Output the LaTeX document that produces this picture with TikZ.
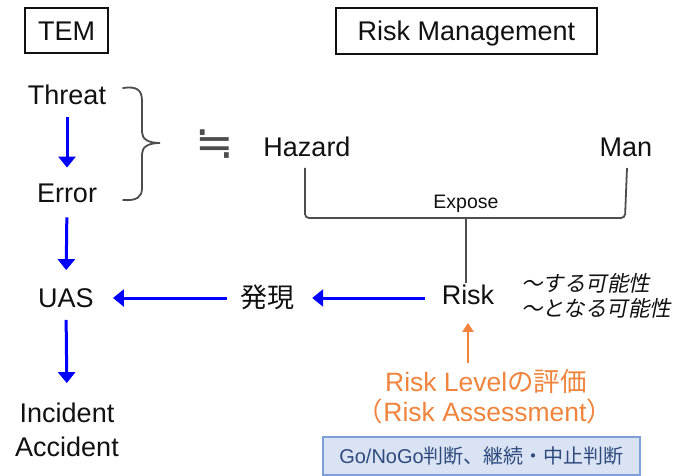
\documentclass[tikz,border=0pt]{standalone}
\usepackage{fontspec}
\setmainfont{Liberation Sans}
\newfontfamily\jp{Noto Sans CJK JP}
\newfontfamily\jpit[FakeSlant=0.2]{Noto Sans CJK JP}
\newfontfamily\symfont{DejaVu Sans}
\usetikzlibrary{arrows.meta}
\definecolor{lineg}{HTML}{4D4D4D}
\definecolor{txt}{HTML}{111111}
\definecolor{arrb}{HTML}{0000FF}
\definecolor{orng}{HTML}{F0843C}
\definecolor{gofill}{HTML}{DAE3F3}
\definecolor{godraw}{HTML}{7F9FD8}
\definecolor{gotext}{HTML}{2E4A7E}
\begin{document}
\begin{tikzpicture}[x=1pt,y=-1pt,
  lbl/.style={inner sep=0pt, text height=19.4pt, text depth=0pt, text=txt, font=\fontsize{27}{32}\selectfont},
  titlebox/.style={lbl, draw=txt, line width=1.4pt},
  small/.style={lbl, text height=14pt, font=\fontsize{19.5}{24}\selectfont},
  note/.style={inner sep=0pt, anchor=west, text=txt, font=\fontsize{21.5}{26}\selectfont\jpit},
  orangetext/.style={lbl, text height=19pt, text=orng, font=\fontsize{26.5}{30}\selectfont},
  barrow/.style={draw=arrb, line width=3pt, -{Triangle[length=11pt,width=17pt]}},
  oarrow/.style={draw=orng, line width=2.4pt, -{Triangle[length=9pt,width=11pt]}},
  gline/.style={draw=lineg, line width=1.8pt},
  gobox/.style={draw=godraw, fill=gofill, line width=1.4pt, text=gotext, inner sep=0pt,
    minimum width=317pt, minimum height=38pt, font=\fontsize{20}{24}\selectfont}
]
\useasboundingbox[fill=white] (0,0) rectangle (675,476);

% title boxes
\node[titlebox, minimum width=83pt, minimum height=45pt] (tem) at (66.5,30.5) {TEM};
\node[titlebox, minimum width=261pt, minimum height=46pt] (rm) at (466.5,31) {Risk Management};

% TEM column
\node[lbl] (threat) at (67,95) {Threat};
\node[lbl] (error) at (67,192.5) {Error};
\node[lbl] (uas) at (66,298) {UAS};
\node[lbl] (incident) at (67,413) {Incident};
\node[lbl] (accident) at (67,447) {Accident};

\draw[barrow, shorten <=12pt, shorten >=15pt] (threat.south) -- (error.north);
\draw[barrow, shorten <=15pt, shorten >=18pt] (error.south) -- (uas.north);
\draw[barrow, shorten <=12pt, shorten >=20pt] (uas.south) -- (incident.north);

% brace and approx equal
\draw[gline, line cap=round] (123,88) .. controls (137,86) and (142,90) .. (142,101) -- (142,132)
  .. controls (142,139) and (148,143) .. (160,143)
  .. controls (148,143) and (142,147) .. (142,154) -- (142,188)
  .. controls (142,197) and (137,201) .. (123,200);
\node[inner sep=0pt, font=\fontsize{46}{48}\selectfont\symfont, text=lineg] (approx) at (215,144) {≒};

% risk management
\node[lbl] (hazard) at (307,147) {Hazard};
\node[lbl] (man) at (626,147) {Man};
\node[small] (expose) at (466,201.5) {Expose};
\coordinate (bl) at (305,168);
\coordinate (br) at (627,168);
\coordinate (bj) at (466,218);
\draw[gline, rounded corners=4pt] (bl) -- (305,218) -- (625,218) -- (br);

\node[lbl] (hatsu) at (267,298) {\jp 発現};
\node[lbl] (risk) at (468,295) {Risk};
\draw[gline, shorten >=2pt] (bj) -- (bj |- risk.north);

\draw[barrow, shorten <=17pt, shorten >=18pt] (risk.west |- hatsu.east) -- (hatsu.east);
\draw[barrow, shorten <=13pt, shorten >=19pt] (hatsu.west) -- (uas.east);

\node[note] (n1) at (521,283) {～する可能性};
\node[note] (n2) at (521,308) {～となる可能性};

% assessment
\node[orangetext] (rl) at (486,381.5) {Risk Level{\jp の評価}};
\node[orangetext] (ra) at (485,411.5) {{\jp （}Risk Assessment{\jp ）}};
\draw[oarrow, shorten <=9pt, shorten >=18pt] (rl.north -| risk.south) -- (risk.south);

\node[gobox] (go) at (481.5,456) {Go/NoGo{\jp 判断、継続・中止判断}};
\end{tikzpicture}
\end{document}
